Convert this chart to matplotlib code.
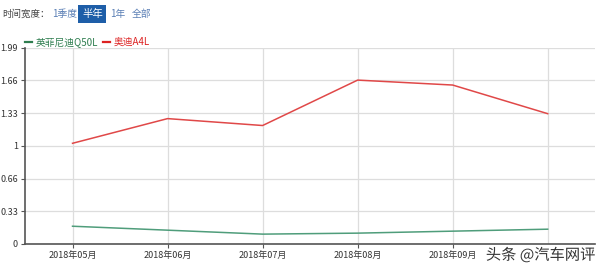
import matplotlib.pyplot as plt
import matplotlib.patheffects as pe

plt.rcParams['font.family'] = ['Noto Sans CJK SC', 'DejaVu Sans']

months = ['2018年05月', '2018年06月', '2018年07月', '2018年08月', '2018年09月', '2018年10月']
q50l = [0.18, 0.14, 0.10, 0.11, 0.13, 0.15]
a4l = [1.02, 1.27, 1.20, 1.66, 1.61, 1.32]
y_ticks = [0, 0.3317, 0.6633, 0.995, 1.3267, 1.6583, 1.99]
y_labels = ['0', '0.33', '0.66', '1', '1.33', '1.66', '1.99']

green = '#4f9d7b'
red = '#e04848'

fig = plt.figure(figsize=(6, 2.7), dpi=100)
ax = fig.add_axes([0.0417, 0.0963, 0.9503, 0.7277])

x = list(range(len(months)))
ax.plot(x, q50l, color=green, lw=1.1)
ax.plot(x, a4l, color=red, lw=1.1)

ax.set_xlim(-0.5, 5.5)
ax.set_ylim(0, 1.99)
ax.set_yticks(y_ticks)
ax.set_yticklabels(y_labels)
ax.set_xticks(x[:5])
ax.set_xticklabels(months[:5])
ax.grid(True, color='#dddddd', lw=0.9)
ax.axvline(5, color='#dddddd', lw=0.9, zorder=0)
ax.set_axisbelow(True)
for s in ['top', 'right']:
    ax.spines[s].set_visible(False)
for s in ['left', 'bottom']:
    ax.spines[s].set_color('#555555')
    ax.spines[s].set_linewidth(1.2)
ax.tick_params(axis='both', labelsize=6.5, colors='#555555', length=3, width=0.8,
               labelcolor='#333333', pad=2)

# top controls
fig.text(0.003, 0.948, '时间宽度：', fontsize=6.8, color='#444444', va='center')
fig.text(0.086, 0.948, '1季度', fontsize=7, color='#5a7fb5', va='center')
fig.text(0.154, 0.948, '半年', fontsize=7.5, color='white', va='center', ha='center',
         bbox=dict(boxstyle='square,pad=0.35', fc='#1e5ea8', ec='none'))
fig.text(0.184, 0.948, '1年', fontsize=7, color='#5a7fb5', va='center')
fig.text(0.219, 0.948, '全部', fontsize=7, color='#5a7fb5', va='center')

# legend
fig.lines.append(plt.Line2D([0.042, 0.053], [0.845, 0.845], color='#2e7d4f', lw=1.6,
                            transform=fig.transFigure))
fig.text(0.06, 0.845, '英菲尼迪Q50L', fontsize=7, color='#2e7d4f', va='center')
fig.lines.append(plt.Line2D([0.172, 0.183], [0.845, 0.845], color='#dd2222', lw=1.6,
                            transform=fig.transFigure))
fig.text(0.19, 0.845, '奥迪A4L', fontsize=7, color='#dd2222', va='center')

# watermark
fig.text(0.992, 0.055, '头条 @汽车网评', fontsize=11, color='#333333', ha='right', va='center',
         path_effects=[pe.withStroke(linewidth=2, foreground='white')])

fig.savefig('out.png', dpi=100)
